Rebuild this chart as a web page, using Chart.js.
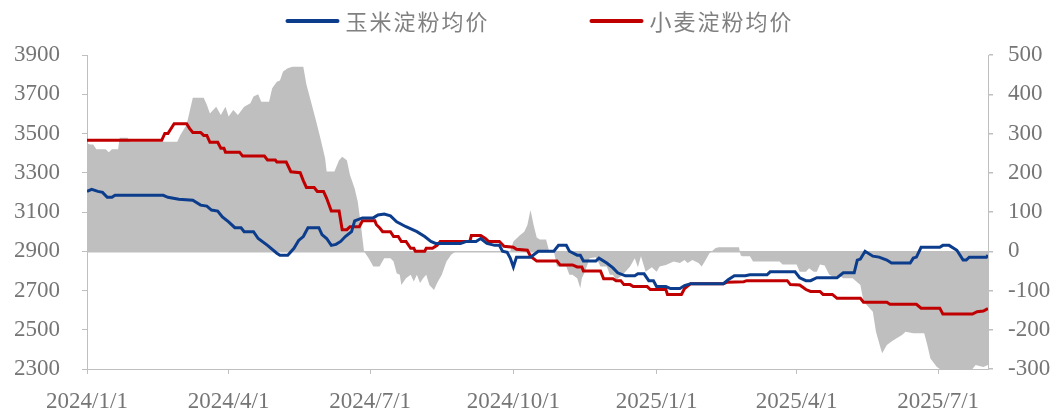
<!DOCTYPE html>
<html>
<head>
<meta charset="utf-8">
<script src="https://cdn.jsdelivr.net/npm/chart.js@4.4.1/dist/chart.umd.min.js"></script>
<style>
  html, body { margin: 0; padding: 0; background: #fff; }
  #wrap { width: 1057px; height: 409px; position: relative; }
</style>
</head>
<body>
<div id="wrap"><canvas id="chart"></canvas></div>
<script>
// x values are days since 2024/1/1
const tickDays = [0, 91, 182, 274, 366, 456, 547]
const tickLabels = ["2024/1/1", "2024/4/1", "2024/7/1", "2024/10/1", "2025/1/1", "2025/4/1", "2025/7/1"]

const cornDays = [0,3,7,10,13,16,18,49,52,59,68,73,77,80,84,87,91,95,99,101,107,110,116,122,124,129,133,136,139,142,149,151,154,157,160,163,166,170,172,177,184,187,191,195,199,205,212,217,221,224,240,244,250,253,257,262,265,267,270,272,274,276,285,290,300,303,308,310,315,317,319,327,329,334,338,341,346,352,354,358,361,364,366,372,375,381,384,388,409,412,416,423,426,437,439,455,458,462,465,469,482,486,493,495,497,500,505,509,514,517,529,531,533,536,548,550,554,559,563,565,567,578,579]
const cornPrice = [3205,3215,3205,3200,3175,3175,3185,3185,3175,3165,3160,3135,3130,3110,3105,3075,3050,3020,3020,3000,3000,2965,2930,2890,2880,2880,2915,2955,2975,3020,3020,2985,2965,2930,2935,2950,2975,3000,3055,3070,3070,3085,3090,3080,3050,3025,3000,2975,2950,2940,2940,2950,2950,2965,2940,2930,2930,2900,2895,2865,2820,2870,2870,2900,2900,2930,2930,2900,2880,2880,2850,2850,2865,2840,2815,2790,2775,2775,2785,2785,2750,2750,2720,2720,2710,2710,2725,2735,2735,2755,2775,2775,2780,2780,2795,2795,2765,2750,2750,2765,2765,2790,2790,2855,2860,2900,2875,2870,2855,2840,2840,2865,2870,2920,2920,2930,2930,2905,2855,2855,2870,2870,2880]

const wheatDays = [0,48,50,52,56,64,66,68,73,75,77,79,84,86,88,89,98,100,114,116,121,122,128,131,137,139,141,146,148,152,154,157,162,164,167,169,175,177,185,186,188,190,195,197,200,202,205,208,210,211,217,218,222,225,227,246,247,253,256,258,265,268,274,276,283,285,289,302,304,312,315,318,319,330,332,338,340,343,345,349,351,360,362,372,373,382,384,388,409,411,422,424,450,452,458,462,465,471,473,479,482,497,499,514,516,533,536,548,550,569,572,576,579]
const wheatPrice = [3465,3465,3500,3500,3550,3550,3525,3505,3505,3490,3490,3455,3455,3425,3425,3405,3405,3385,3385,3365,3365,3355,3355,3305,3300,3260,3225,3225,3205,3205,3170,3105,3105,3010,3010,3025,3025,3055,3055,3035,3020,3000,3000,2975,2975,2950,2950,2915,2915,2900,2900,2915,2915,2930,2950,2950,2980,2980,2965,2950,2950,2925,2920,2910,2905,2875,2850,2850,2830,2830,2820,2820,2800,2800,2760,2760,2750,2750,2730,2730,2720,2720,2705,2705,2680,2680,2710,2735,2735,2742,2745,2750,2750,2730,2728,2705,2695,2695,2680,2680,2660,2660,2640,2640,2630,2630,2610,2610,2580,2580,2592,2595,2608]

// grey area, right axis
const spreadDays = [0,2,4,6,12,14,16,20,21,26,28,58,60,64,68,75,77,79,83,86,89,91,94,97,101,105,107,110,112,117,119,122,124,126,129,132,139,141,144,147,150,153,154,159,162,164,167,169,172,174,176,178,181,184,188,191,195,197,199,201,202,205,208,210,212,214,216,218,220,223,225,228,231,234,237,272,274,278,281,283,285,287,289,291,295,297,300,302,308,310,312,315,317,318,320,323,327,330,334,336,338,340,343,346,349,352,354,356,359,363,366,368,372,377,381,384,386,389,393,395,397,400,404,406,419,420,421,426,428,445,447,456,458,462,464,467,469,471,474,477,479,484,486,492,497,499,505,507,510,511,514,517,520,524,526,531,538,540,542,546,548,569,571,576,579]
const spreadValue = [275,272,272,260,260,252,260,260,289,289,279,279,296,322,391,391,373,351,368,347,368,343,360,347,368,377,394,400,381,381,415,432,435,458,466,470,470,425,380,335,288,237,203,203,232,241,232,194,160,126,67,0,-18,-39,-39,-18,-18,-26,-56,-60,-86,-69,-60,-77,-60,-81,-69,-60,-86,-99,-81,-60,-26,-9,0,0,25,40,50,67,105,67,35,30,30,0,0,-39,-39,-60,-60,-69,-94,-69,-52,-18,-15,-39,-39,-60,-60,-73,-64,-52,-39,-18,-41,-13,-52,-41,-52,-39,-35,-26,-30,-22,-30,-22,-30,-39,-26,-5,8,10,10,-10,-13,-13,-26,-26,-34,-34,-52,-52,-43,-52,-52,-34,-36,-60,-64,-64,-69,-69,-86,-128,-154,-205,-247,-260,-239,-230,-222,-213,-205,-209,-209,-239,-273,-294,-300,-300,-290,-295,-290]

const toPoints = (xs, ys) => xs.map((x, i) => ({ x: x, y: ys[i] }))

const axisGrey = "#bfbfbf"
const labelGrey = "#757575"
const tickFont = { family: "'Times New Roman', 'Liberation Serif', serif", size: 23 }

// legend on top: line sample + text, centred over the plot
const topLegend = {
  id: "topLegend",
  afterDraw(chart) {
    const ctx = chart.ctx
    const area = chart.chartArea
    const items = chart.data.datasets.filter(d => d.inLegend)
    ctx.save()
    ctx.font = "22px 'Noto Sans CJK SC'"
    ctx.letterSpacing = "2px"
    const lineLen = 54, textGap = 6, itemGap = 100
    const widths = items.map(d => lineLen + textGap + ctx.measureText(d.label).width)
    const total = widths.reduce((a, b) => a + b, 0) + itemGap * (items.length - 1)
    let x = (area.left + area.right) / 2 - total / 2 + 2
    const y = 21
    items.forEach((d, i) => {
      ctx.strokeStyle = d.borderColor
      ctx.lineWidth = 4
      ctx.lineCap = "round"
      ctx.beginPath()
      ctx.moveTo(x + 2, y)
      ctx.lineTo(x + lineLen - 2, y)
      ctx.stroke()
      ctx.fillStyle = "#808080"
      ctx.textBaseline = "middle"
      ctx.textAlign = "left"
      ctx.fillText(d.label, x + lineLen + textGap, y + 1)
      x += widths[i] + itemGap
    })
    ctx.restore()
  }
}

new Chart(document.getElementById("chart"), {
  type: "line",
  data: {
    datasets: [
      {
        label: "玉米淀粉均价",
        data: toPoints(cornDays, cornPrice),
        borderColor: "#0c3c8c",
        borderWidth: 3,
        pointRadius: 0,
        yAxisID: "y",
        inLegend: true
      },
      {
        label: "小麦淀粉均价",
        data: toPoints(wheatDays, wheatPrice),
        borderColor: "#c00000",
        borderWidth: 3,
        pointRadius: 0,
        yAxisID: "y",
        inLegend: true
      },
      {
        label: "价差",
        data: toPoints(spreadDays, spreadValue),
        borderWidth: 0,
        borderColor: axisGrey,
        backgroundColor: axisGrey,
        fill: "origin",
        pointRadius: 0,
        yAxisID: "y1"
      }
    ]
  },
  options: {
    responsive: true,
    maintainAspectRatio: false,
    animation: false,
    layout: { padding: { top: 55, left: 0, right: 0, bottom: 0 } },
    plugins: { legend: { display: false }, tooltip: { enabled: false } },
    scales: {
      x: {
        type: "linear",
        min: 0,
        max: 579,
        afterBuildTicks: s => { s.ticks = tickDays.map(v => ({ value: v })) },
        afterFit: s => { s.height = 40 },
        ticks: {
          autoSkip: false,
          maxRotation: 0,
          padding: 14,
          font: tickFont,
          color: labelGrey,
          callback: v => tickLabels[tickDays.indexOf(v)]
        },
        grid: { drawOnChartArea: false, tickLength: 5, color: axisGrey, tickColor: axisGrey },
        border: { color: axisGrey, width: 1 }
      },
      y: {
        position: "left",
        min: 2300,
        max: 3900,
        afterFit: s => { s.width = 87 },
        ticks: { stepSize: 200, padding: 22, font: tickFont, color: labelGrey, callback: v => String(v) },
        grid: { drawOnChartArea: false, tickLength: 5, color: axisGrey, tickColor: axisGrey },
        border: { color: axisGrey, width: 1 }
      },
      y1: {
        position: "right",
        min: -300,
        max: 500,
        afterFit: s => { s.width = 69 },
        ticks: { stepSize: 100, padding: 15, font: tickFont, color: labelGrey, callback: v => String(v) },
        grid: {
          drawOnChartArea: true,
          tickLength: 5,
          tickColor: axisGrey,
          lineWidth: 1.5,
          color: c => (c.tick && c.tick.value === 0 ? axisGrey : "rgba(0,0,0,0)")
        },
        border: { color: axisGrey, width: 1 }
      }
    }
  },
  plugins: [topLegend]
})
</script>
</body>
</html>
